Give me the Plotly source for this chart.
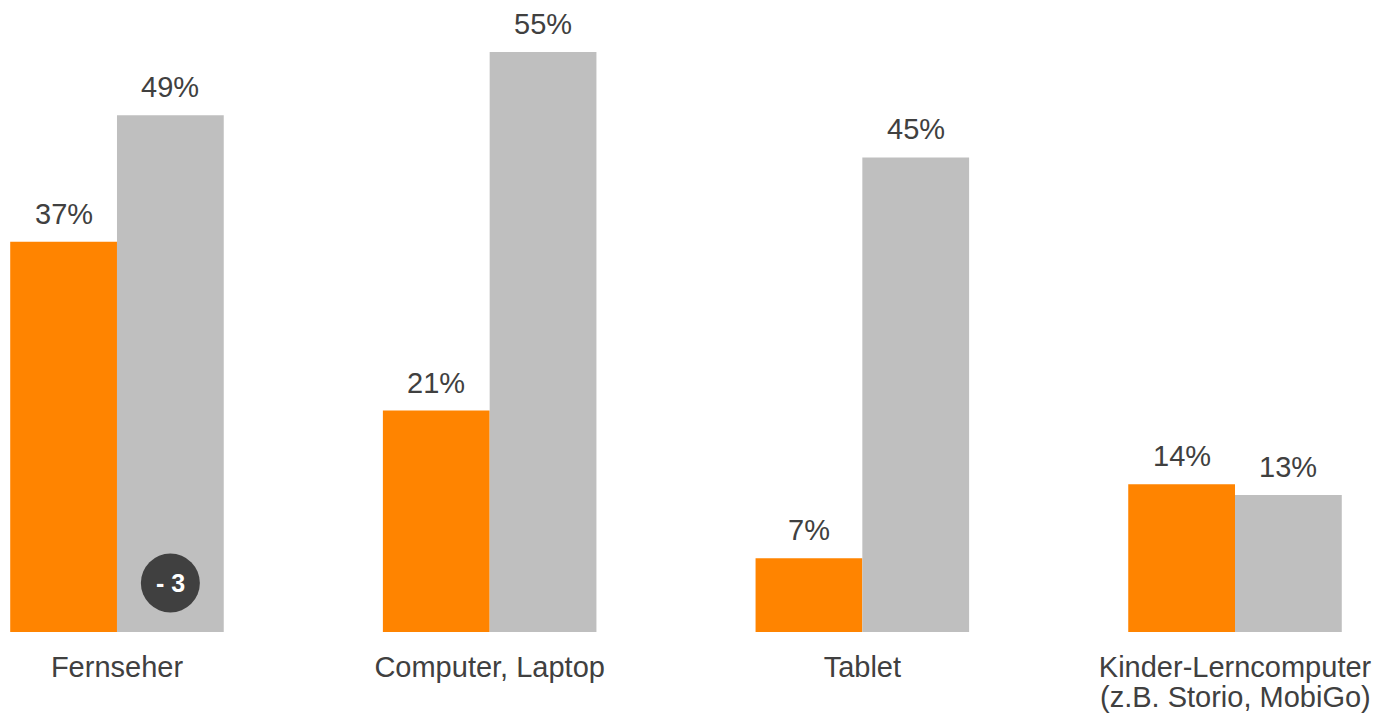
import plotly.graph_objects as go

categories = ["Fernseher", "Computer, Laptop", "Tablet", "Kinder-Lerncomputer<br>(z.B. Storio, MobiGo)"]
series_a = [37, 21, 7, 14]   # orange
series_b = [49, 55, 45, 13]  # gray
change_label = "- 3"

ORANGE = "#FF8400"
GRAY = "#BFBFBF"
TEXT = "#404040"
FONT = 'Arial, "Liberation Sans", sans-serif'
FS = 29

idx = list(range(len(categories)))
first_lines = [c.split("<br>")[0] for c in categories]

BARGAP = 0.427
half = (1 - BARGAP) / 2  # width of one bar in category units

fig = go.Figure()
fig.add_trace(go.Bar(x=idx, y=series_a, marker_color=ORANGE, marker_line_width=0, name="a"))
fig.add_trace(go.Bar(x=idx, y=series_b, marker_color=GRAY, marker_line_width=0, name="b"))

annotations = []
for i in idx:
    for vals, off in ((series_a, -half / 2), (series_b, half / 2)):
        annotations.append(dict(
            x=i + off, y=vals[i], xref="x", yref="y", text=f"{vals[i]}%",
            showarrow=False, yanchor="bottom", yshift=10,
            font=dict(family=FONT, size=FS, color=TEXT)))
    parts = categories[i].split("<br>")
    for k, line in enumerate(parts[1:], start=1):
        annotations.append(dict(
            x=i, y=0, xref="x", yref="y", text=line, showarrow=False,
            yanchor="top", yshift=-(47 + 32 * (k - 1)),
            font=dict(family=FONT, size=FS, color=TEXT)))

# change badge on first gray bar
annotations.append(dict(
    x=0 + half / 2, y=0, xref="x", yref="y", text=f"<b>{change_label}</b>",
    showarrow=False, yanchor="middle", yshift=49,
    font=dict(family=FONT, size=25, color="white")))

fig.add_shape(type="circle", xref="x", yref="y", xsizemode="pixel", ysizemode="pixel",
              xanchor=0 + half / 2, yanchor=0, x0=-29.5, x1=29.5, y0=19.5, y1=78.5,
              fillcolor="#404040", line_width=0, layer="above")

fig.update_layout(
    width=1377, height=717,
    margin=dict(l=0, r=0, t=0, b=85),
    barmode="group", bargap=BARGAP, bargroupgap=0,
    plot_bgcolor="white", paper_bgcolor="white",
    showlegend=False,
    annotations=annotations,
    font=dict(family=FONT, size=FS, color=TEXT),
)
fig.update_xaxes(range=[-0.3139, 3.381], tickmode="array", tickvals=idx, ticktext=first_lines,
                 showgrid=False, zeroline=False, showline=False, ticks="",
                 ticklabelstandoff=15,
                 tickfont=dict(family=FONT, size=FS, color=TEXT))
fig.update_yaxes(range=[0, 59.93], showgrid=False, zeroline=False, showline=False,
                 showticklabels=False)

fig.write_html("out.html", config={"displayModeBar": False},
               post_script="document.body.style.margin='0';document.body.style.overflow='hidden';")
